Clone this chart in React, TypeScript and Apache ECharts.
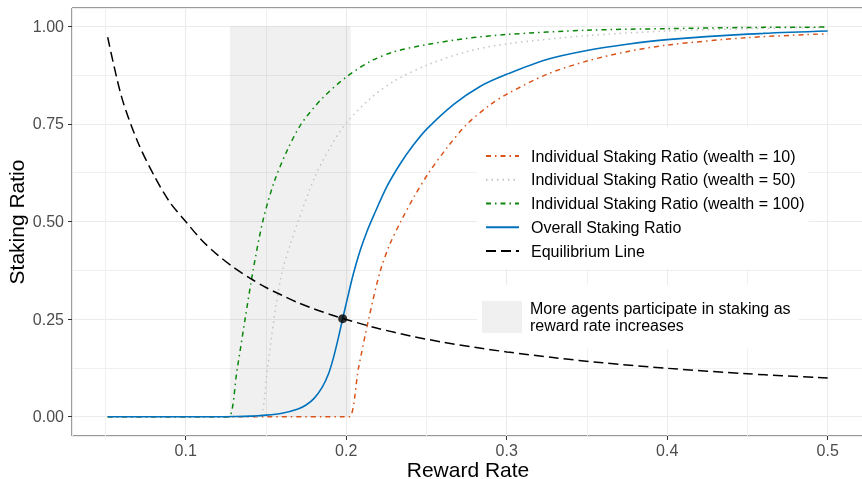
import React, { useEffect, useRef } from 'react';
import * as echarts from 'echarts';

// ---- Data ----
const wealth10X = [0.0514, 0.197, 0.2021, 0.2077, 0.214, 0.221, 0.227, 0.234, 0.2425, 0.2515, 0.263, 0.2754, 0.29, 0.3, 0.325, 0.35, 0.375, 0.4, 0.45, 0.5];
const wealth10Y = [0, 0, 0, 0.125, 0.25, 0.37, 0.44, 0.5, 0.565, 0.625, 0.69, 0.75, 0.8, 0.826, 0.877, 0.911, 0.935, 0.952, 0.971, 0.981];

const wealth50X = [0.0514, 0.141, 0.1463, 0.151, 0.155, 0.16, 0.165, 0.17, 0.18, 0.19, 0.2, 0.215, 0.23, 0.25, 0.275, 0.3, 0.35, 0.4, 0.45, 0.5];
const wealth50Y = [0, 0, 0, 0.125, 0.25, 0.37, 0.44, 0.5, 0.61, 0.69, 0.752, 0.815, 0.86, 0.9, 0.935, 0.955, 0.976, 0.988, 0.994, 0.997];

const wealth100X = [0.0514, 0.122, 0.127, 0.132, 0.137, 0.142, 0.148, 0.155, 0.163, 0.172, 0.185, 0.2, 0.215, 0.23, 0.25, 0.275, 0.3, 0.35, 0.4, 0.45, 0.5];
const wealth100Y = [0, 0, 0, 0.12, 0.25, 0.375, 0.5, 0.6, 0.68, 0.75, 0.815, 0.87, 0.91, 0.935, 0.953, 0.969, 0.979, 0.99, 0.994, 0.997, 0.998];

const overallX = [0.0514, 0.12, 0.13, 0.14, 0.15, 0.16, 0.17, 0.175, 0.18, 0.185, 0.189, 0.192, 0.195, 0.1978, 0.2015, 0.2046, 0.2088, 0.213, 0.2171, 0.2254, 0.234, 0.2421, 0.25, 0.267, 0.2834, 0.3, 0.325, 0.35, 0.375, 0.4, 0.45, 0.5];
const overallY = [0, 0, 0.0005, 0.0015, 0.004, 0.009, 0.02, 0.03, 0.047, 0.075, 0.11, 0.15, 0.2, 0.251, 0.316, 0.368, 0.427, 0.475, 0.515, 0.59, 0.65, 0.697, 0.736, 0.8, 0.846, 0.877, 0.915, 0.938, 0.954, 0.966, 0.98, 0.988];

const equilibriumX = [0.0514, 0.06, 0.07, 0.08, 0.09, 0.1, 0.11, 0.12, 0.13, 0.14, 0.15, 0.16, 0.17, 0.18, 0.19, 0.2, 0.22, 0.24, 0.26, 0.28, 0.3, 0.33, 0.36, 0.4, 0.45, 0.5];
const equilibriumY = [0.972, 0.82, 0.705, 0.62, 0.55, 0.5, 0.452, 0.414, 0.382, 0.355, 0.331, 0.311, 0.292, 0.276, 0.262, 0.249, 0.226, 0.207, 0.191, 0.178, 0.166, 0.151, 0.138, 0.124, 0.11, 0.099];

const intersectionPoint = [0.1978, 0.251];
const shadeX = [0.1275, 0.2028];
const shadeY = [0, 1];

const seriesNames = [
  'Individual Staking Ratio (wealth = 10)',
  'Individual Staking Ratio (wealth = 50)',
  'Individual Staking Ratio (wealth = 100)',
  'Overall Staking Ratio',
  'Equilibrium Line',
];
const shadeName = 'More agents participate in staking as\nreward rate increases';
const xTitle = 'Reward Rate';
const yTitle = 'Staking Ratio';

const FONT = '"Liberation Sans", Arial, Helvetica, sans-serif';

const zip = (xs: number[], ys: number[]) => xs.map((x, i) => [x, ys[i]]);

export default function App() {
  const ref = useRef<HTMLDivElement>(null);
  useEffect(() => {
    if (!ref.current) return;
    const chart = echarts.init(ref.current, null, { renderer: 'svg' });
    const lineBase = { type: 'line', symbol: 'none', showSymbol: false, smooth: 0.3, silent: true };
    const option: any = {
      animation: false,
      textStyle: { fontFamily: FONT },
      grid: {
        left: 72, top: 8, width: 792, height: 428,
        show: true, borderColor: '#333333', borderWidth: 1, backgroundColor: 'transparent',
        containLabel: false, outerBoundsMode: 'none',
      },
      xAxis: {
        type: 'value', min: 0.02916, max: 0.52262, minInterval: 0.1, maxInterval: 0.1, splitNumber: 5,
        axisLine: { show: false, onZero: false },
        axisTick: { show: true, length: 4, lineStyle: { color: '#333333', width: 1 } },
        axisLabel: {
          showMinLabel: false, showMaxLabel: false, color: '#4D4D4D', fontSize: 16, margin: 6, fontFamily: FONT,
          formatter: (v: number) => v.toFixed(1),
        },
        splitLine: { show: true, lineStyle: { color: '#EBEBEB', width: 1.1 } },
        minorTick: { show: false, splitNumber: 2 },
        minorSplitLine: { show: true, lineStyle: { color: '#F0F0F0', width: 1 } },
        name: xTitle, nameLocation: 'middle', nameGap: 24.5, nameMoveOverlap: false,
        nameTextStyle: { fontSize: 21, lineHeight: 18, color: '#000000', fontFamily: FONT },
      },
      yAxis: {
        type: 'value', min: -0.0494, max: 1.0469, minInterval: 0.25, maxInterval: 0.25, splitNumber: 4,
        axisLine: { show: false, onZero: false },
        axisTick: { show: true, length: 4, lineStyle: { color: '#333333', width: 1 } },
        axisLabel: {
          showMinLabel: false, showMaxLabel: false, color: '#4D4D4D', fontSize: 16, margin: 8, fontFamily: FONT,
          formatter: (v: number) => v.toFixed(2),
        },
        splitLine: { show: true, lineStyle: { color: '#EBEBEB', width: 1.1 } },
        minorTick: { show: false, splitNumber: 2 },
        minorSplitLine: { show: true, lineStyle: { color: '#F0F0F0', width: 1 } },
        name: yTitle, nameLocation: 'middle', nameGap: 45, nameRotate: 90, nameMoveOverlap: false,
        nameTextStyle: { fontSize: 21, color: '#000000', fontFamily: FONT },
      },
      legend: [
        {
          data: seriesNames, orient: 'vertical', left: 477, top: 127,
          itemWidth: 33, itemHeight: 14, itemGap: 7.75,
          padding: [21, 4, 10, 8], backgroundColor: '#ffffff', selectedMode: false,
          itemStyle: { opacity: 0 },
          textStyle: { fontSize: 16, color: '#000000', fontFamily: FONT, padding: [0, 0, 0, 7] },
        },
        {
          data: [shadeName], orient: 'vertical', left: 477, top: 285,
          itemWidth: 40, itemHeight: 32, icon: 'rect',
          padding: [14.6, 8, 14.6, 5], backgroundColor: '#ffffff', selectedMode: false,
          textStyle: { fontSize: 16, lineHeight: 17.4, color: '#000000', fontFamily: FONT, padding: [0, 0, 0, 3] },
        },
      ],
      series: [
        {
          type: 'line', name: shadeName, data: [], symbol: 'none', silent: true,
          itemStyle: { color: '#F0F0F0' }, lineStyle: { color: '#F0F0F0' }, z: 1,
          markArea: {
            silent: true, itemStyle: { color: 'rgba(0,0,0,0.06)' },
            data: [[{ xAxis: shadeX[0], yAxis: shadeY[0] }, { xAxis: shadeX[1], yAxis: shadeY[1] }]],
          },
        },
        {
          ...lineBase, name: seriesNames[0], data: zip(wealth10X, wealth10Y), z: 3,
          itemStyle: { color: '#D95319' }, lineStyle: { color: '#D95319', width: 1.5, type: [5, 4, 1.5, 4] },
        },
        {
          ...lineBase, name: seriesNames[1], data: zip(wealth50X, wealth50Y), z: 3,
          itemStyle: { color: '#C4C4C4' }, lineStyle: { color: '#C4C4C4', width: 1.5, type: [1.5, 4] },
        },
        {
          ...lineBase, name: seriesNames[2], data: zip(wealth100X, wealth100Y), z: 3,
          itemStyle: { color: '#0A870A' }, lineStyle: { color: '#0A870A', width: 1.5, type: [5, 4, 1.5, 4] },
        },
        {
          ...lineBase, name: seriesNames[3], data: zip(overallX, overallY), z: 4,
          itemStyle: { color: '#0072BD' }, lineStyle: { color: '#0072BD', width: 1.6, type: 'solid' },
        },
        {
          ...lineBase, name: seriesNames[4], data: zip(equilibriumX, equilibriumY), z: 4,
          itemStyle: { color: '#000000' }, lineStyle: { color: '#000000', width: 1.5, type: [10, 5] },
        },
        {
          type: 'scatter', name: 'intersection', data: [intersectionPoint], symbolSize: 9, silent: true,
          itemStyle: { color: '#000000' }, z: 6,
        },
      ],
    };
    chart.setOption(option);
    return () => chart.dispose();
  }, []);
  return <div ref={ref} style={{ position: 'fixed', left: 0, top: 0, width: 862, height: 479 }} />;
}
